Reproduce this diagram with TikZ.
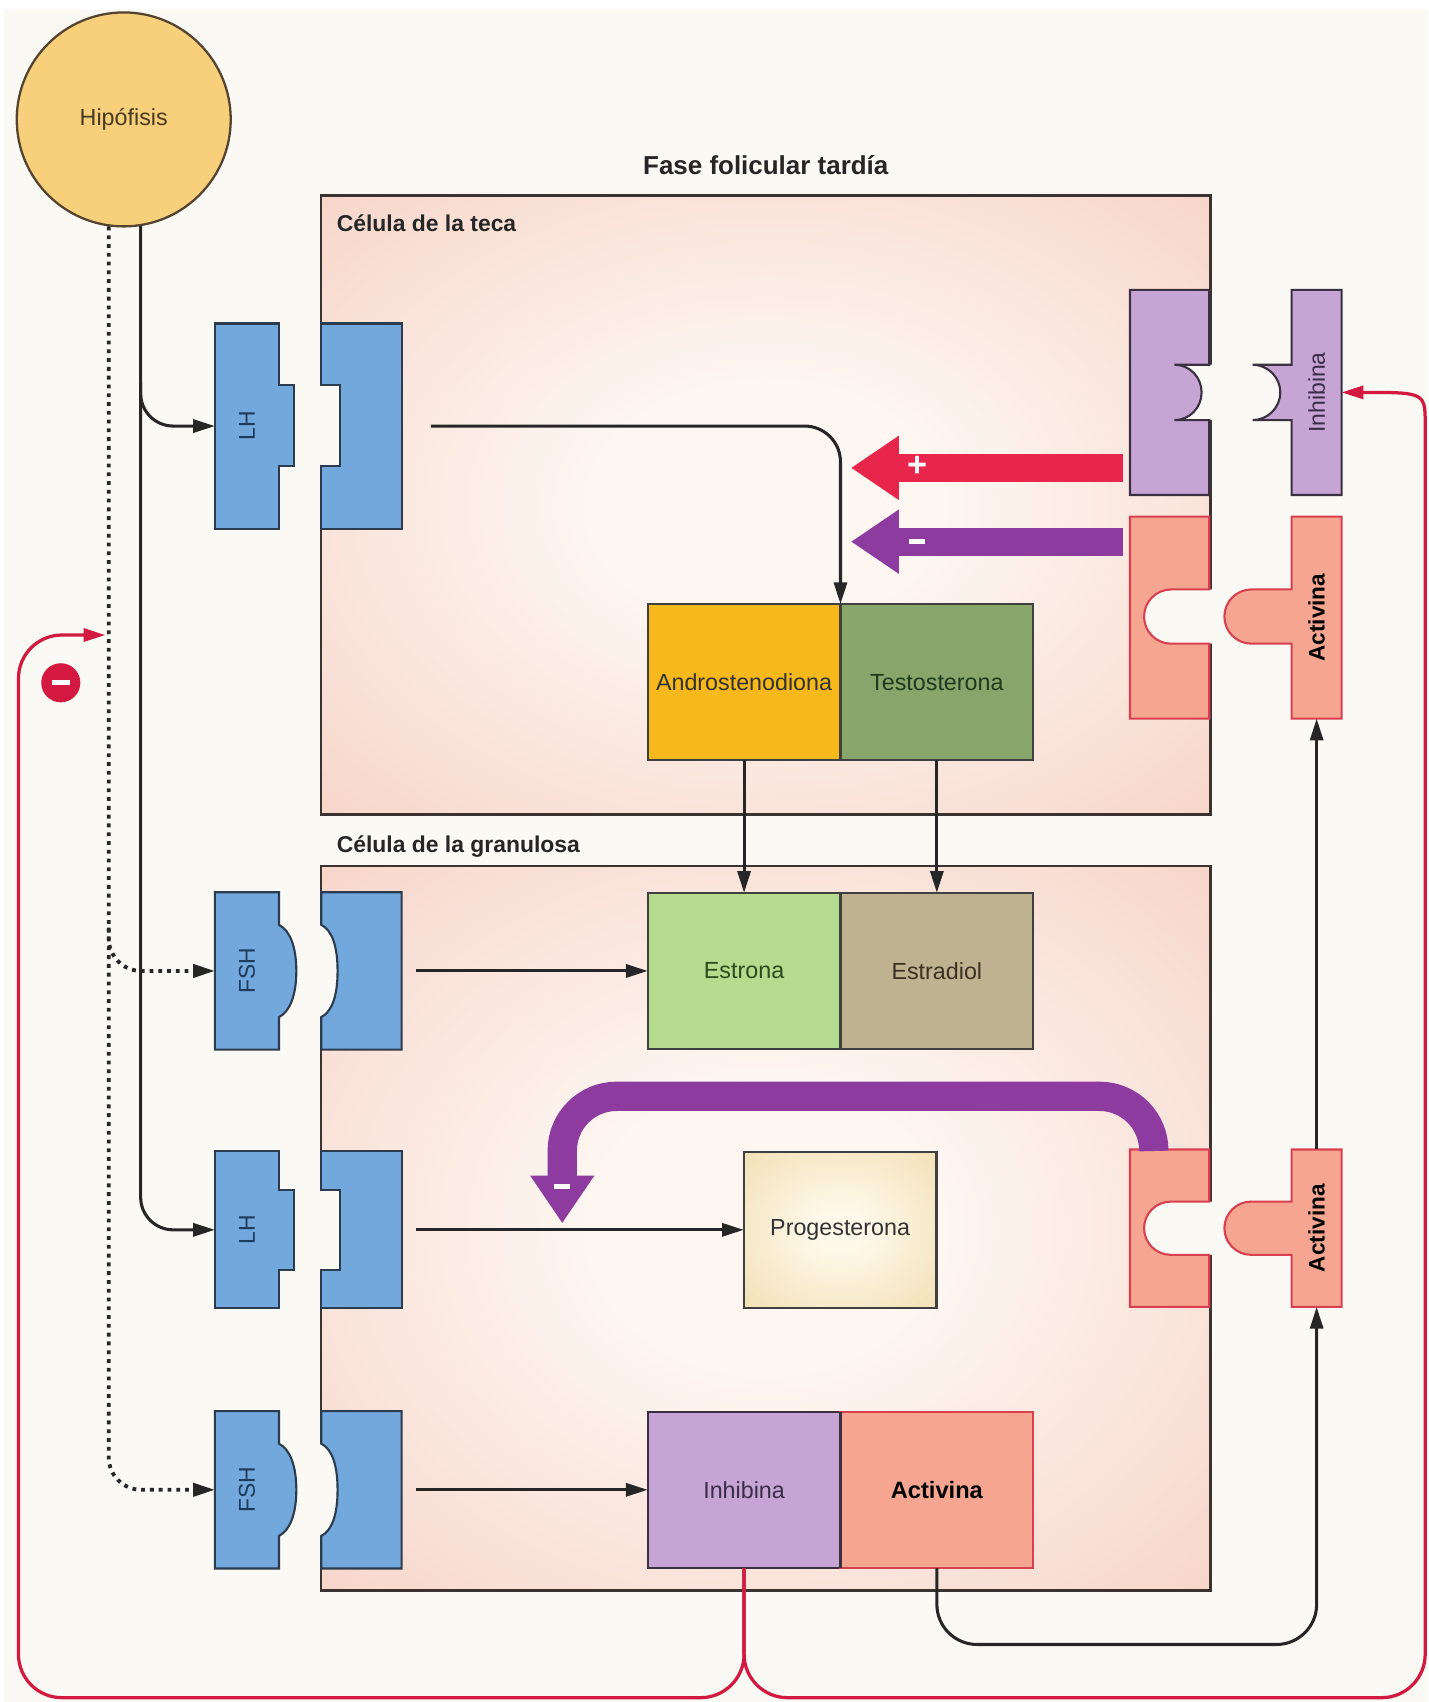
\documentclass[tikz,border=0pt]{standalone}
\usepackage{fontspec}
\setmainfont{Liberation Sans}
\usepackage{graphicx}
\usetikzlibrary{arrows.meta,positioning,calc}

\definecolor{bgpaper}{HTML}{FAF9F4}
\definecolor{cellin}{HTML}{FDF6F1}
\definecolor{cellout}{HTML}{F4C4B3}
\definecolor{cellline}{HTML}{3A3330}
\definecolor{rcpblue}{HTML}{72A8DC}
\definecolor{rcpedge}{HTML}{2C3C4E}
\definecolor{rcptext}{HTML}{1F3B5C}
\definecolor{hipofill}{HTML}{F8CF7B}
\definecolor{hipoline}{HTML}{554530}
\definecolor{hipotext}{HTML}{4A3A20}
\definecolor{androfill}{HTML}{F6B81A}
\definecolor{testofill}{HTML}{88A66C}
\definecolor{testotext}{HTML}{1E3A1C}
\definecolor{estronafill}{HTML}{B5DB8E}
\definecolor{estronatext}{HTML}{2C4A1E}
\definecolor{estradfill}{HTML}{BFB290}
\definecolor{estradtext}{HTML}{3A3222}
\definecolor{progein}{HTML}{FFF9EA}
\definecolor{progeout}{HTML}{ECD49C}
\definecolor{inhfill}{HTML}{C6A5D5}
\definecolor{inhline}{HTML}{3A3040}
\definecolor{inhtext}{HTML}{3A2C48}
\definecolor{actfill}{HTML}{F5A590}
\definecolor{actline}{HTML}{D8404F}
\definecolor{fbred}{HTML}{D3193F}
\definecolor{plusred}{HTML}{E8264B}
\definecolor{minuspurple}{HTML}{8E3B9F}

\pgfdeclareradialshading{cellglow}{\pgfpoint{0bp}{0bp}}{color(0bp)=(cellin); color(10bp)=(cellin); color(50bp)=(cellout)}
\pgfdeclareradialshading{progeglow}{\pgfpoint{0bp}{0bp}}{color(0bp)=(progein); color(6bp)=(progein); color(50bp)=(progeout)}

\tikzset{
  cellbox/.style={draw=cellline, line width=0.7pt, shading=cellglow, inner sep=0pt},
  celllbl/.style={font=\fontsize{6}{7}\selectfont\bfseries, text=black!85, inner sep=0pt},
  hormbox/.style={draw=black!75, line width=0.55pt, minimum width=1.775cm, minimum height=1.44cm,
    inner sep=0pt, outer sep=0pt, font=\fontsize{6.1}{7}\selectfont},
  bluepc/.style={fill=rcpblue, draw=rcpedge, line width=0.55pt},
  actpc/.style={fill=actfill, draw=actline, line width=0.55pt},
  inhpc/.style={fill=inhfill, draw=inhline, line width=0.55pt},
  gapfill/.style={fill=bgpaper},
  slot/.style={inner sep=0pt, outer sep=0pt, font=\fontsize{6}{7}\selectfont},
  thinarrow/.style={draw=black!85, line width=0.8pt, -{Triangle[length=0.2cm,width=0.12cm]}},
  dotarrow/.style={thinarrow, line width=1pt, dash pattern=on 1pt off 1.3pt},
  fbarrow/.style={draw=fbred, line width=0.85pt, -{Triangle[length=0.2cm,width=0.12cm]}},
  bigplus/.style={draw=plusred, line width=0.26cm, -{Triangle[length=0.44cm,width=0.56cm]}},
  bigminus/.style={draw=minuspurple, line width=0.26cm, -{Triangle[length=0.44cm,width=0.56cm]}},
  signlbl/.style={text=white, font=\fontsize{9}{9}\selectfont\bfseries, inner sep=0pt},
}

\begin{document}
\begin{tikzpicture}[x=0.01cm, y=-0.01cm]
\useasboundingbox (0,0) rectangle (1316,1568);
\fill[white] (0,0) rectangle (1316,1568);
\fill[bgpaper] (4,9) rectangle (1316,1568);

% cells
\node[cellbox, minimum width=8.19cm, minimum height=5.70cm] (theca) at (705.5,465) {};
\node[cellbox, minimum width=8.19cm, minimum height=6.67cm] (gran) at (705.5,1131.5) {};
\node[celllbl, anchor=west] (tecalbl) at ([xshift=0.15cm,yshift=-0.27cm]theca.north west) {Célula de la teca};
\node[celllbl, anchor=west] (granlbl) at ([xshift=0.15cm,yshift=0.17cm]gran.north west) {Célula de la granulosa};
\node[celllbl, font=\fontsize{6.8}{8}\selectfont\bfseries, anchor=south] (title) at ([yshift=0.17cm]theca.north) {Fase folicular tardía};

% hipofisis
\node[circle, draw=hipoline, fill=hipofill, line width=0.6pt, minimum size=1.97cm, inner sep=0pt,
  font=\fontsize{6.1}{7}\selectfont, text=hipotext] (hipo) at (114,110) {Hipófisis};

% hormones
\node[hormbox, fill=androfill, text=black!80] (andro) at (685.5,628.5) {Androstenodiona};
\node[hormbox, fill=testofill, text=testotext, right=0pt of andro] (testo) {Testosterona};
\node[hormbox, fill=estronafill, text=estronatext] (estrona) at (685.5,894.5) {Estrona};
\node[hormbox, fill=estradfill, text=estradtext, right=0pt of estrona] (estradiol) {Estradiol};
\node[hormbox, shading=progeglow, text=black!80] (proge) at (774,1133) {Progesterona};
\node[hormbox, fill=inhfill, draw=inhline, text=inhtext] (inhib) at (685.5,1372.5) {Inhibina};
\node[hormbox, fill=actfill, draw=actline, font=\fontsize{6.2}{7}\selectfont\bfseries, right=0pt of inhib] (activ) {Activina};
\draw[inhline, line width=0.55pt] (inhib.north east) -- (inhib.south east);

% LH / FSH pieces
\fill[gapfill] (293,355) rectangle (313,429);
\draw[bluepc] (198,298) -- (257,298) -- (257,355) -- (271,355) -- (271,429) -- (257,429) -- (257,487) -- (198,487) -- cycle;
\draw[bluepc] (296,298) -- (370,298) -- (370,487) -- (296,487) -- (296,429) -- (313,429) -- (313,355) -- (296,355) -- cycle;

\fill[gapfill] (293,852) -- (296,852) .. controls (306,857) and (311,872) .. (311,894.5) .. controls (311,917) and (306,932) .. (296,937) -- (293,937) -- cycle;
\draw[bluepc] (198,822) -- (257,822) -- (257,852) .. controls (267,857) and (273,872) .. (273,894.5) .. controls (273,917) and (267,932) .. (257,937) -- (257,967) -- (198,967) -- cycle;
\draw[bluepc] (296,822) -- (370,822) -- (370,967) -- (296,967) -- (296,937) .. controls (306,932) and (311,917) .. (311,894.5) .. controls (311,872) and (306,857) .. (296,852) -- cycle;

\fill[gapfill] (293,1096) rectangle (313,1170);
\draw[bluepc] (198,1060) -- (257,1060) -- (257,1096) -- (271,1096) -- (271,1170) -- (257,1170) -- (257,1205) -- (198,1205) -- cycle;
\draw[bluepc] (296,1060) -- (370,1060) -- (370,1205) -- (296,1205) -- (296,1170) -- (313,1170) -- (313,1096) -- (296,1096) -- cycle;

\fill[gapfill] (293,1330) -- (296,1330) .. controls (306,1335) and (311,1350) .. (311,1372.5) .. controls (311,1395) and (306,1410) .. (296,1415) -- (293,1415) -- cycle;
\draw[bluepc] (198,1300) -- (257,1300) -- (257,1330) .. controls (267,1335) and (273,1350) .. (273,1372.5) .. controls (273,1395) and (267,1410) .. (257,1415) -- (257,1445) -- (198,1445) -- cycle;
\draw[bluepc] (296,1300) -- (370,1300) -- (370,1445) -- (296,1445) -- (296,1415) .. controls (306,1410) and (311,1395) .. (311,1372.5) .. controls (311,1350) and (306,1335) .. (296,1330) -- cycle;

% inhibina / activina pieces
\fill[gapfill] (1082,336) -- (1117,336) -- (1117,387) -- (1082,387) .. controls (1096,387) and (1107,375.5) .. (1107,361.5) .. controls (1107,347.5) and (1096,336) .. (1082,336) -- cycle;
\draw[inhpc] (1041,267) -- (1114,267) -- (1114,336) -- (1082,336) .. controls (1096,336) and (1107,347.5) .. (1107,361.5) .. controls (1107,375.5) and (1096,387) .. (1082,387) -- (1114,387) -- (1114,456) -- (1041,456) -- cycle;
\draw[inhpc] (1190,267) -- (1236,267) -- (1236,456) -- (1190,456) -- (1190,387) -- (1154,387) .. controls (1168,387) and (1179.5,375.5) .. (1179.5,361.5) .. controls (1179.5,347.5) and (1168,336) .. (1154,336) -- (1190,336) -- cycle;

\fill[gapfill] (1117,543) -- (1079,543) .. controls (1065.2,543) and (1054,554.2) .. (1054,568) .. controls (1054,581.8) and (1065.2,593) .. (1079,593) -- (1117,593) -- cycle;
\draw[actpc] (1041,476) -- (1114,476) -- (1114,543) -- (1079,543) .. controls (1065.2,543) and (1054,554.2) .. (1054,568) .. controls (1054,581.8) and (1065.2,593) .. (1079,593) -- (1114,593) -- (1114,662) -- (1041,662) -- cycle;
\draw[actpc] (1190,476) -- (1236,476) -- (1236,662) -- (1190,662) -- (1190,593) -- (1153,593) .. controls (1139.2,593) and (1128,581.8) .. (1128,568) .. controls (1128,554.2) and (1139.2,543) .. (1153,543) -- (1190,543) -- cycle;

\fill[gapfill] (1117,1107) -- (1078.5,1107) .. controls (1065,1107) and (1054,1118) .. (1054,1131.5) .. controls (1054,1145) and (1065,1156) .. (1078.5,1156) -- (1117,1156) -- cycle;
\draw[actpc] (1041,1059) -- (1114,1059) -- (1114,1107) -- (1078.5,1107) .. controls (1065,1107) and (1054,1118) .. (1054,1131.5) .. controls (1054,1145) and (1065,1156) .. (1078.5,1156) -- (1114,1156) -- (1114,1204) -- (1041,1204) -- cycle;
\draw[actpc] (1190,1059) -- (1236,1059) -- (1236,1204) -- (1190,1204) -- (1190,1156) -- (1152.5,1156) .. controls (1139,1156) and (1128,1145) .. (1128,1131.5) .. controls (1128,1118) and (1139,1107) .. (1152.5,1107) -- (1190,1107) -- cycle;

% labels and anchors of the pieces
\node[slot, minimum width=0.59cm, minimum height=1.89cm, text=rcptext] (lh1) at (227.5,392.5) {\rotatebox{90}{LH}};
\node[slot, minimum width=0.74cm, minimum height=1.89cm] (rlh1) at (333,392.5) {};
\node[slot, minimum width=0.59cm, minimum height=1.45cm, text=rcptext] (fsh1) at (227.5,894.5) {\rotatebox{90}{FSH}};
\node[slot, minimum width=0.74cm, minimum height=1.45cm] (rfsh1) at (333,894.5) {};
\node[slot, minimum width=0.59cm, minimum height=1.45cm, text=rcptext] (lh2) at (227.5,1133) {\rotatebox{90}{LH}};
\node[slot, minimum width=0.74cm, minimum height=1.45cm] (rlh2) at (333,1133) {};
\node[slot, minimum width=0.59cm, minimum height=1.45cm, text=rcptext] (fsh2) at (227.5,1372.5) {\rotatebox{90}{FSH}};
\node[slot, minimum width=0.74cm, minimum height=1.45cm] (rfsh2) at (333,1372.5) {};
\node[slot, minimum width=0.46cm, minimum height=1.89cm, text=inhtext] (ilig) at (1213,361.5) {\rotatebox{90}{Inhibina}};
\node[slot, minimum width=0.73cm, minimum height=1.89cm] (irec) at (1077.5,361.5) {};
\node[slot, minimum width=0.46cm, minimum height=1.86cm, font=\fontsize{5.9}{7}\selectfont\bfseries] (alig1) at (1213,569) {\rotatebox{90}{Activina}};
\node[slot, minimum width=0.73cm, minimum height=1.86cm] (arec1) at (1077.5,569) {};
\node[slot, minimum width=0.46cm, minimum height=1.45cm, font=\fontsize{5.9}{7}\selectfont\bfseries] (alig2) at (1213,1131.5) {\rotatebox{90}{Activina}};
\node[slot, minimum width=0.73cm, minimum height=1.45cm] (arec2) at (1077.5,1131.5) {};

% hipofisis outputs
\draw[thinarrow, rounded corners=0.3cm] ($(hipo.-81 |- lh1.west)+(0,-40)$) |- (lh1.west);
\draw[thinarrow, rounded corners=0.3cm] (hipo.-81) |- (lh2.west);
\draw[dotarrow, rounded corners=0.3cm] ($(hipo.-98 |- fsh1.west)+(0,-40)$) |- (fsh1.west);
\draw[dotarrow, rounded corners=0.3cm] (hipo.-98) |- (fsh2.west);

% synthesis
\draw[thinarrow, rounded corners=0.33cm, shorten <=0.27cm] (rlh1.east) -| (andro.north east);
\draw[thinarrow] (andro.south) -- (estrona.north);
\draw[thinarrow] (testo.south) -- (estradiol.north);
\draw[thinarrow, shorten <=0.13cm] (rfsh1.east) -- (estrona.west);
\draw[thinarrow, shorten <=0.13cm] (rlh2.east) -- (proge.west);
\draw[thinarrow, shorten <=0.13cm] (rfsh2.east) -- (inhib.west);

% activina loop
\coordinate (actloop) at (0,1515);
\draw[thinarrow, rounded corners=0.37cm] (activ.south) -- (activ.south |- actloop) -- (alig2.south |- actloop) -- (alig2.south);
\draw[thinarrow] (alig2.north) -- (alig1.south);

% feedback of inhibina
\coordinate (fbfloor) at (0,1564);
\coordinate (fbleft) at (17,0);
\coordinate (fbright) at (1313,0);
\coordinate (fbtip) at (97,585);
\draw[fbarrow, rounded corners=0.4cm] (inhib.south) -- (inhib.south |- fbfloor) -- (fbleft |- fbfloor) -- (fbleft |- fbtip) -- (fbtip);
\draw[fbarrow, rounded corners=0.4cm] (inhib.south) -- (inhib.south |- fbfloor) -- (fbright |- fbfloor) -- ($(fbright |- ilig.east)+(0,70)$) .. controls (fbright |- ilig.east) .. (ilig.east);
\node[circle, fill=fbred, inner sep=0pt, minimum size=0.36cm] (fbminus) at (56,629) {\color{white}\rule{0.17cm}{0.05cm}};

% effects on the theca
\coordinate (plustip) at (784,431);
\coordinate (minustip) at (784,499);
\draw[bigplus, shorten <=0.06cm] (plustip -| irec.west) -- (plustip);
\draw[bigminus, shorten <=0.06cm] (minustip -| arec1.west) -- (minustip);
\node[signlbl] (plus) at (845,430) {+};
\node[inner sep=0pt] (minus1) at (845,499) {\color{white}\rule{0.15cm}{0.045cm}};

% activina on progesterona
\coordinate (purpbend) at (518,1010);
\coordinate (purptip) at (518,1127);
\draw[bigminus, line width=0.27cm, rounded corners=0.5cm] ([xshift=-0.145cm]arec2.north) |- (purpbend) -- (purptip);
\node[inner sep=0pt] (minus2) at (518,1093) {\color{white}\rule{0.15cm}{0.045cm}};
\end{tikzpicture}
\end{document}
